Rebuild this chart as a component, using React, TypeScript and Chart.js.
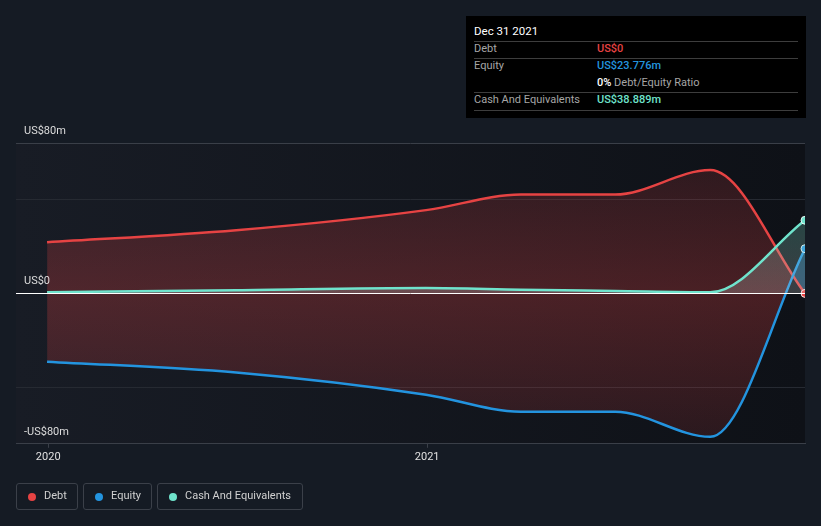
import React, { useEffect, useRef } from "react";
import { Chart, registerables } from "chart.js";

Chart.register(...registerables);

// ---- data (values in US$ millions, x in fractional years) ----
const dates = [2019.997, 2020.496, 2020.997, 2021.247, 2021.496, 2021.747, 2021.997];
const debt = [27.2, 33.6, 44.3, 52.6, 52.6, 65.6, 0];
const equity = [-36.3, -42.1, -53.9, -62.9, -62.9, -76.3, 23.776];
const cash = [0.6, 1.7, 2.9, 2.0, 1.3, 0.6, 38.889];
const yTickValues = [-80, -50, 0, 50, 80];
const yTickLabels: Record<string, string> = { "80": "US$80m", "0": "US$0", "-80": "-US$80m" };
const xTickValues = [2020, 2021];
const legendItems = ["Debt", "Equity", "Cash And Equivalents"];

const RED = "#e64343";
const BLUE = "#2394df";
const TEAL = "#6fe3cc";
const BG = "#151b24";
const FONT = "Roboto, 'Noto Sans', sans-serif";

const bgPlugin = {
  id: "plotBg",
  beforeDraw(chart: any) {
    const { ctx, chartArea } = chart;
    if (!chartArea) return;
    const g = ctx.createLinearGradient(chartArea.left, 0, chartArea.right, 0);
    g.addColorStop(0, "#181c25");
    g.addColorStop(1, "#0e1117");
    ctx.save();
    ctx.fillStyle = g;
    ctx.fillRect(chartArea.left, chartArea.top, chartArea.right - chartArea.left, chartArea.bottom - chartArea.top);
    ctx.restore();
  },
};

const overlayPlugin = {
  id: "overlay",
  afterDatasetsDraw(chart: any) {
    const { ctx, chartArea, scales } = chart;
    const y = scales.y;
    ctx.save();
    // zero line
    const y0 = Math.round(y.getPixelForValue(0)) + 0.5;
    ctx.strokeStyle = "#ffffff";
    ctx.lineWidth = 1;
    ctx.beginPath();
    ctx.moveTo(chartArea.left, y0);
    ctx.lineTo(chartArea.right, y0);
    ctx.stroke();
    // y labels above their grid lines
    ctx.font = `11px ${FONT}`;
    ctx.fillStyle = "#dcdcdc";
    ctx.textBaseline = "middle";
    ctx.textAlign = "left";
    Object.keys(yTickLabels).forEach((k) => {
      const py = y.getPixelForValue(Number(k));
      ctx.fillText(yTickLabels[k], chartArea.left + 8, py - 12);
    });
    ctx.restore();
  },
};

function gridColor(v: number) {
  if (v === 0) return "rgba(0,0,0,0)";
  if (Math.abs(v) === 80) return "#3a3f48";
  return "#262a32";
}

export default function App() {
  const ref = useRef<HTMLCanvasElement | null>(null);

  useEffect(() => {
    document.body.style.margin = "0";
    document.body.style.background = BG;
    const canvas = ref.current!;
    const chart = new Chart(canvas, {
      type: "line",
      data: {
        datasets: [
          {
            label: "Debt",
            data: dates.map((d, i) => ({ x: d, y: debt[i] })),
            borderColor: RED,
            borderWidth: 2.5,
            cubicInterpolationMode: "monotone",
            pointRadius: (c: any) => (c.dataIndex === dates.length - 1 ? 4 : 0),
            pointBackgroundColor: RED,
            pointBorderColor: "rgba(255,255,255,0.85)",
            pointBorderWidth: 1,
            fill: {
              target: 1,
              above: (c: any) => {
                const ca = c.chart.chartArea;
                if (!ca) return "rgba(230,67,67,0.25)";
                const ys = c.chart.scales.y;
                const z = (ys.getPixelForValue(0) - ca.top) / (ca.bottom - ca.top);
                const g = c.chart.ctx.createLinearGradient(0, ca.top, 0, ca.bottom);
                g.addColorStop(0, "rgba(230,67,67,0.12)");
                g.addColorStop(Math.min(Math.max(z, 0), 1), "rgba(230,67,67,0.27)");
                g.addColorStop(1, "rgba(230,67,67,0.12)");
                return g;
              },
              below: "rgba(35,148,223,0.35)",
            },
            order: 2,
          },
          {
            label: "Equity",
            data: dates.map((d, i) => ({ x: d, y: equity[i] })),
            borderColor: BLUE,
            borderWidth: 2.5,
            cubicInterpolationMode: "monotone",
            pointRadius: (c: any) => (c.dataIndex === dates.length - 1 ? 4 : 0),
            pointBackgroundColor: BLUE,
            pointBorderColor: "rgba(255,255,255,0.85)",
            pointBorderWidth: 1,
            fill: false,
            order: 1,
          },
          {
            label: "Cash And Equivalents",
            data: dates.map((d, i) => ({ x: d, y: cash[i] })),
            borderColor: TEAL,
            borderWidth: 2.5,
            cubicInterpolationMode: "monotone",
            pointRadius: (c: any) => (c.dataIndex === dates.length - 1 ? 4 : 0),
            pointBackgroundColor: TEAL,
            pointBorderColor: "rgba(255,255,255,0.85)",
            pointBorderWidth: 1,
            fill: {
              target: "origin",
              above: (c: any) => {
                const ca = c.chart.chartArea;
                if (!ca) return "rgba(180,200,200,0.2)";
                const ys = c.chart.scales.y;
                const g = c.chart.ctx.createLinearGradient(0, ys.getPixelForValue(40), 0, ys.getPixelForValue(0));
                g.addColorStop(0, "rgba(111,227,204,0.25)");
                g.addColorStop(1, "rgba(220,220,220,0.22)");
                return g;
              },
              below: "rgba(111,227,204,0.2)",
            },
            order: 0,
          },
        ],
      },
      plugins: [bgPlugin, overlayPlugin],
      options: {
        animation: false,
        responsive: false,
        devicePixelRatio: 1,
        layout: { padding: { left: 16, right: 16, top: 143, bottom: 59 } },
        plugins: { legend: { display: false }, tooltip: { enabled: false } },
        scales: {
          x: {
            type: "linear",
            min: 2019.915,
            max: 2021.997,
            afterBuildTicks: (s: any) => {
              s.ticks = xTickValues.map((v) => ({ value: v }));
            },
            ticks: {
              color: "#e0e0e0",
              font: { family: FONT, size: 11 },
              padding: 3,
              maxRotation: 0,
              autoSkip: false,
              callback: (v: any) => String(v),
            },
            grid: { drawOnChartArea: false, drawTicks: true, tickLength: 4, tickColor: "#3a3f48" },
            border: { display: true, color: "#3a3f48" },
          },
          y: {
            type: "linear",
            min: -80,
            max: 80,
            afterBuildTicks: (s: any) => {
              s.ticks = yTickValues.map((v) => ({ value: v }));
            },
            ticks: { display: false },
            grid: {
              drawTicks: false,
              color: (c: any) => gridColor(c.tick ? c.tick.value : 1),
              lineWidth: 1,
            },
            border: { display: false },
          },
        },
      },
    } as any);
    return () => chart.destroy();
  }, []);

  const lbl: React.CSSProperties = {
    position: "absolute",
    fontFamily: FONT,
    fontSize: 11,
    lineHeight: "14px",
    whiteSpace: "nowrap",
  };
  const sep = (top: number) => (
    <div style={{ position: "absolute", left: 8, width: 324, top, height: 1, background: "#3d3d3d" }} />
  );

  const legendBoxes = [
    { left: 16, width: 62, color: RED },
    { left: 83, width: 69, color: BLUE },
    { left: 157, width: 146, color: TEAL },
  ];

  return (
    <div style={{ position: "fixed", left: 0, top: 0, width: 821, height: 526, background: BG, overflow: "hidden" }}>
      <canvas ref={ref} width={821} height={526} style={{ position: "absolute", left: 0, top: 0 }} />
      {/* info box */}
      <div style={{ position: "absolute", left: 466, top: 16, width: 340, height: 102, background: "#000" }}>
        <span style={{ ...lbl, left: 8, top: 8, color: "#fff", fontSize: 11.5 }}>Dec 31 2021</span>
        {sep(25)}
        <span style={{ ...lbl, left: 8, top: 26, color: "#a6a6a6" }}>Debt</span>
        <span style={{ ...lbl, left: 131, top: 26, color: RED, fontWeight: 500 }}>US$0</span>
        {sep(42)}
        <span style={{ ...lbl, left: 8, top: 43, color: "#a6a6a6" }}>Equity</span>
        <span style={{ ...lbl, left: 131, top: 43, color: BLUE, fontWeight: 500 }}>US$23.776m</span>
        <span style={{ ...lbl, left: 131, top: 60, color: "#a6a6a6" }}>
          <span style={{ color: "#fff", fontWeight: 500 }}>0%</span> Debt/Equity Ratio
        </span>
        {sep(76)}
        <span style={{ ...lbl, left: 8, top: 77, color: "#a6a6a6" }}>Cash And Equivalents</span>
        <span style={{ ...lbl, left: 131, top: 77, color: TEAL, fontWeight: 500 }}>US$38.889m</span>
        {sep(94)}
      </div>
      {/* legend */}
      {legendItems.map((name, i) => (
        <div
          key={name}
          style={{
            position: "absolute",
            left: legendBoxes[i].left,
            top: 483,
            width: legendBoxes[i].width,
            height: 27,
            boxSizing: "border-box",
            border: "1px solid #3b4049",
            borderRadius: 3,
          }}
        >
          <div
            style={{
              position: "absolute",
              left: 11,
              top: 9,
              width: 8,
              height: 8,
              borderRadius: 4,
              background: legendBoxes[i].color,
            }}
          />
          <span style={{ ...lbl, left: 27, top: 5, color: "#d0d0d0" }}>{name}</span>
        </div>
      ))}
    </div>
  );
}
